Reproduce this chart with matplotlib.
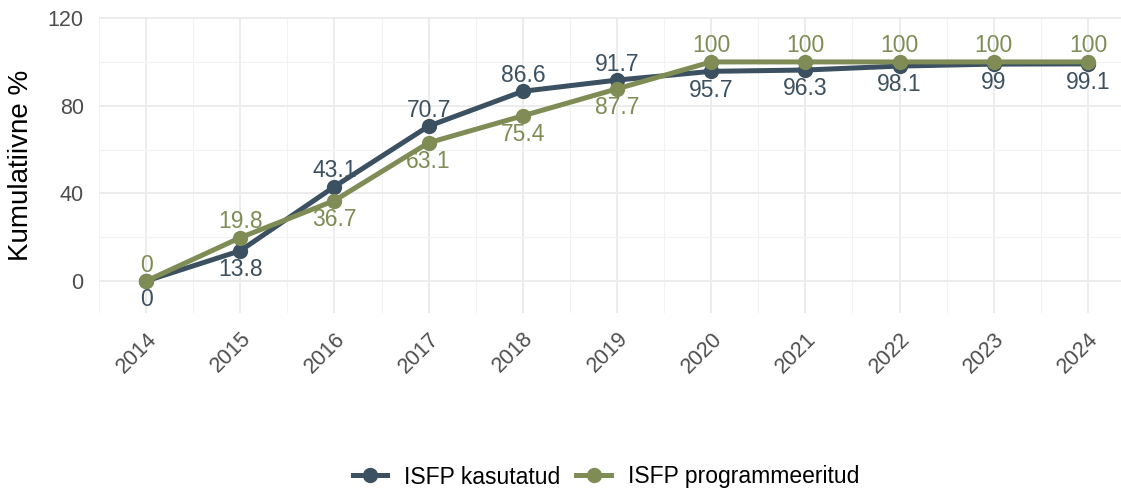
import matplotlib.pyplot as plt
from matplotlib.ticker import MultipleLocator

plt.rcParams['font.family'] = ['Liberation Sans', 'DejaVu Sans']

# data
years = [2014, 2015, 2016, 2017, 2018, 2019, 2020, 2021, 2022, 2023, 2024]
kasutatud = [0, 13.8, 43.1, 70.7, 86.6, 91.7, 95.7, 96.3, 98.1, 99, 99.1]
programmeeritud = [0, 19.8, 36.7, 63.1, 75.4, 87.7, 100, 100, 100, 100, 100]
tick_labels = [str(y) for y in years]

c_kas = '#3b5060'
c_prog = '#7f8c55'

fig = plt.figure(figsize=(11.21, 4.92), dpi=100)
ax = fig.add_axes([99 / 1121, 1 - 313 / 492, 1036 / 1121, (313 - 17) / 492])

ax.plot(years, kasutatud, color=c_kas, lw=3.6, marker='o', ms=10,
        label='ISFP kasutatud', zorder=3)
ax.plot(years, programmeeritud, color=c_prog, lw=3.6, marker='o', ms=10,
        label='ISFP programmeeritud', zorder=4)


def fmt(v):
    return ('%.1f' % v).rstrip('0').rstrip('.')


# the higher series gets its label above, the lower one below
for x, k, p in zip(years, kasutatud, programmeeritud):
    k_up = k > p
    ax.annotate(fmt(k), (x, k), xytext=(0, 11.5 if k_up else -13.5), textcoords='offset points',
                ha='center', va='center', color=c_kas, fontsize=16.5, zorder=5)
    ax.annotate(fmt(p), (x, p), xytext=(0, -13.5 if k_up else 11.5), textcoords='offset points',
                ha='center', va='center', color=c_prog, fontsize=16.5, zorder=5)

ax.set_xlim(2013.5, 2024.5)
ax.set_ylim(-14.6, 120.5)
ax.set_xticks(years)
ax.set_xticklabels(tick_labels, rotation=45, ha='right', rotation_mode='anchor')
ax.xaxis.set_minor_locator(MultipleLocator(0.5))
ax.set_yticks([0, 40, 80, 120])
ax.yaxis.set_minor_locator(MultipleLocator(20))
ax.grid(True, which='major', color='#ebebeb', lw=1.3)
ax.grid(True, which='minor', color='#f2f2f2', lw=0.8)
ax.set_axisbelow(True)
for s in ax.spines.values():
    s.set_visible(False)
ax.tick_params(which='both', length=0, labelsize=15.5, labelcolor='#4d4d4d')
ax.tick_params(axis='x', pad=11)
ax.tick_params(axis='y', pad=11)
ax.set_ylabel('Kumulatiivne %', fontsize=20)
ax.yaxis.set_label_coords(-0.0627, 0.5)

fig.legend(loc='center', bbox_to_anchor=(606 / 1121, 1 - 477 / 492), ncol=2, frameon=False,
           fontsize=16.5, handlelength=1.5, columnspacing=0.7, handletextpad=0.75)

fig.savefig('out.png', dpi=100)
